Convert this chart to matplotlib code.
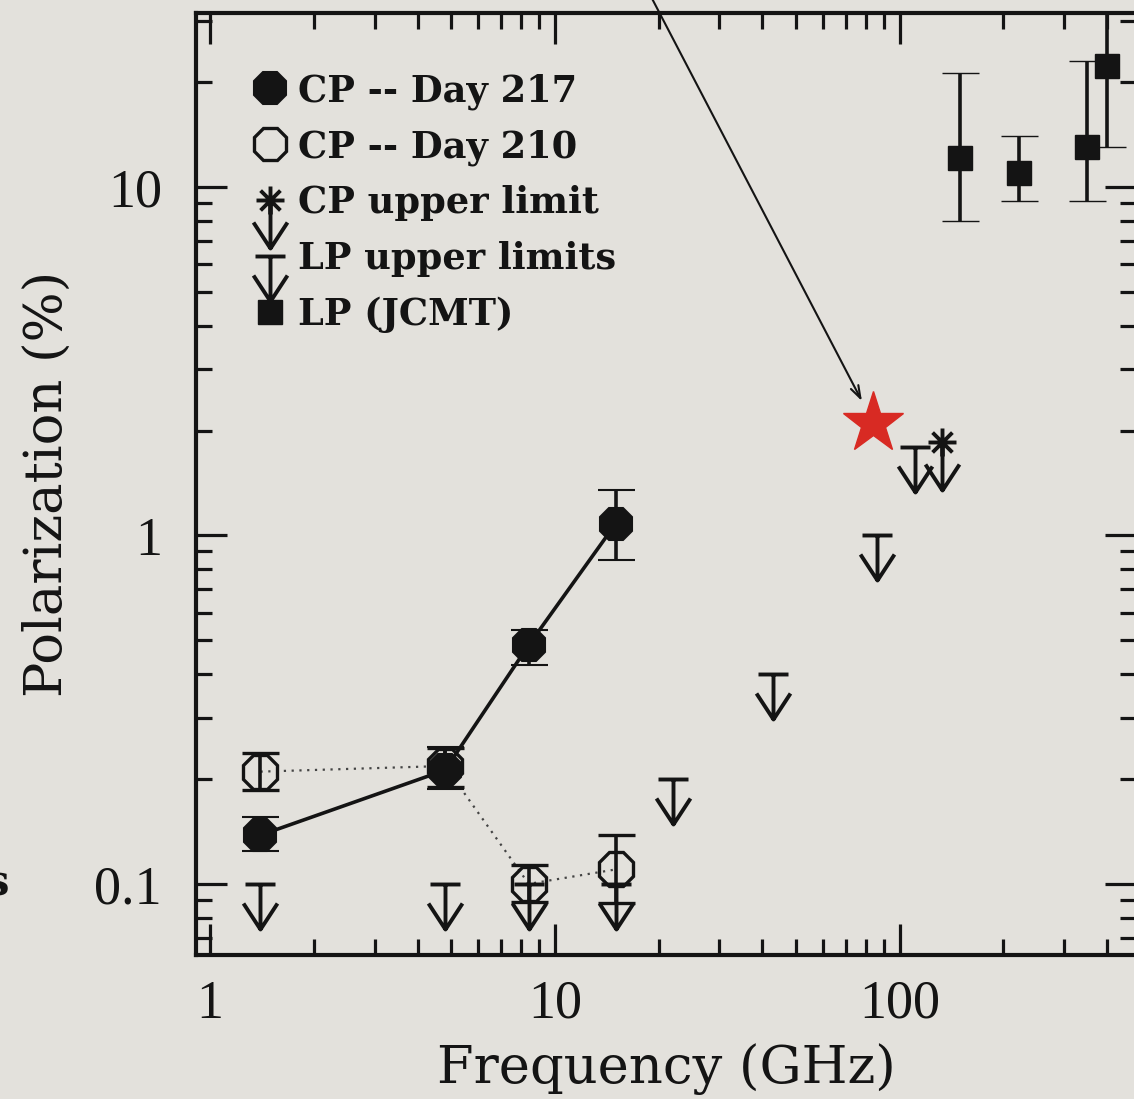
import numpy as np
import matplotlib
matplotlib.use('Agg')
import matplotlib.pyplot as plt
from matplotlib.path import Path
from matplotlib.markers import MarkerStyle
from matplotlib.lines import Line2D
from matplotlib.ticker import FixedLocator, FixedFormatter, NullFormatter, LogLocator

DPI = 100
PAPER = '#e3e1dc'
INK = '#141414'

# circular polarization, day 217 (filled octagons, solid line)
cp217_freq = [1.4, 4.8, 8.4, 15.0]
cp217_pol = [0.138, 0.212, 0.485, 1.08]
cp217_lo = [0.124, 0.187, 0.425, 0.85]
cp217_hi = [0.156, 0.247, 0.535, 1.35]

# circular polarization, day 210 (open octagons, dotted line)
cp210_freq = [1.4, 4.8, 8.4, 15.0]
cp210_pol = [0.21, 0.218, 0.10, 0.11]
cp210_lo = [0.186, 0.19, 0.089, 0.088]
cp210_hi = [0.238, 0.245, 0.113, 0.138]

# CP upper limit
cplim_freq = [133.0]
cplim_pol = [1.85]

# LP upper limits
lplim_freq = [1.4, 4.8, 8.4, 15.0, 22.0, 43.0, 86.0, 111.0]
lplim_pol = [0.1, 0.1, 0.1, 0.1, 0.2, 0.4, 1.0, 1.8]

# LP measured at JCMT
jcmt_freq = [150.0, 222.0, 350.0, 400.0]
jcmt_pol = [12.1, 11.0, 13.0, 22.2]
jcmt_lo = [8.0, 9.1, 9.1, 13.0]
jcmt_hi = [21.2, 14.0, 23.0, 45.0]

# new point
star_freq = [84.0]
star_pol = [2.1]

x_ticks = [1, 10, 100]
x_ticklabels = ['1', '10', '100']
y_ticks = [0.1, 1, 10]
y_ticklabels = ['0.1', '1', '10']


def px2pt(v):
    return v * 72.0 / DPI


def limit_marker(top):
    # downward arrow; path origin sits on the limit value, units are pixels
    verts, codes = [], []

    def stroke(*pts):
        verts.extend(pts)
        codes.extend([Path.MOVETO] + [Path.LINETO] * (len(pts) - 1))

    if top == 'bar':
        length = 45
        stroke((-15, 0), (15, 0))
    else:
        length = 48
        for ang in (0, 45, 90, 135):
            a = np.radians(ang)
            dx, dy = 14 * np.cos(a), 14 * np.sin(a)
            stroke((-dx, -dy), (dx, dy))
    stroke((0, 0), (0, -length))
    stroke((-17, -length + 26), (0, -length), (17, -length + 26))
    m = MarkerStyle(Path(verts, codes), joinstyle='miter')
    return m, px2pt(2 * length)


lp_marker, lp_size = limit_marker('bar')
cp_marker, cp_size = limit_marker('star')

W, H = 1134, 1099
fig = plt.figure(figsize=(W / DPI, H / DPI), dpi=DPI, facecolor=PAPER)
ax = fig.add_axes([196 / W, (H - 955) / H, (1136 - 196) / W, (955 - 13) / H])
ax.set_facecolor(PAPER)
ax.set_xscale('log')
ax.set_yscale('log')

err_kw = dict(ecolor=INK, elinewidth=2.6, capsize=px2pt(18.5), capthick=2.6)

# day 210: dotted connecting line, open markers
ax.plot(cp210_freq, cp210_pol, ls=(0, (1, 2.5)), lw=1.6, color='#444444', zorder=2)
ax.errorbar(cp210_freq, cp210_pol,
            yerr=[np.subtract(cp210_pol, cp210_lo), np.subtract(cp210_hi, cp210_pol)],
            fmt='8', ms=26, mfc='none', mec=INK, mew=2.4, zorder=3, **err_kw)

# day 217: solid connecting line, filled markers
ax.plot(cp217_freq, cp217_pol, ls='-', lw=2.6, color=INK, zorder=3)
ax.errorbar(cp217_freq, cp217_pol,
            yerr=[np.subtract(cp217_pol, cp217_lo), np.subtract(cp217_hi, cp217_pol)],
            fmt='8', ms=25, mfc=INK, mec=INK, mew=1.5, zorder=4, **err_kw)

# upper limits
ax.plot(lplim_freq, lplim_pol, ls='none', marker=lp_marker, ms=lp_size,
        mfc='none', mec=INK, mew=2.8, zorder=4)
ax.plot(cplim_freq, cplim_pol, ls='none', marker=cp_marker, ms=cp_size,
        mfc='none', mec=INK, mew=2.8, zorder=4)

# JCMT linear polarization
ax.errorbar(jcmt_freq, jcmt_pol,
            yerr=[np.subtract(jcmt_pol, jcmt_lo), np.subtract(jcmt_hi, jcmt_pol)],
            fmt='s', ms=17, mfc=INK, mec=INK, mew=1, zorder=4, **err_kw)

# red star and the pointer to it
ax.plot(star_freq, star_pol, ls='none', marker='*', ms=46, color='#d82a23',
        mec='#d82a23', zorder=5)
ax.annotate('', xy=(star_freq[0], star_pol[0]), xycoords='data',
            xytext=(634, 1135), textcoords='figure pixels',
            arrowprops=dict(arrowstyle='->,head_length=0.9,head_width=0.3',
                            lw=1.5, color=INK, shrinkA=0, shrinkB=18),
            annotation_clip=False, zorder=6)

ax.set_xlim(0.91, 485)
ax.set_ylim(0.0625, 31.6)

tick_font = dict(family='Liberation Serif', size=39)
ax.xaxis.set_major_locator(FixedLocator(x_ticks))
ax.xaxis.set_major_formatter(FixedFormatter(x_ticklabels))
ax.yaxis.set_major_locator(FixedLocator(y_ticks))
ax.yaxis.set_major_formatter(FixedFormatter(y_ticklabels))
for axis in (ax.xaxis, ax.yaxis):
    axis.set_minor_locator(LogLocator(base=10, subs=np.arange(2, 10), numticks=20))
    axis.set_minor_formatter(NullFormatter())
ax.tick_params(which='both', direction='in', top=True, right=True,
               color=INK, width=2.3)
ax.tick_params(which='major', length=px2pt(31))
ax.tick_params(which='minor', length=px2pt(16))
ax.tick_params(axis='x', pad=px2pt(24))
ax.tick_params(axis='y', pad=px2pt(34))
for lab in ax.get_xticklabels() + ax.get_yticklabels():
    lab.set_fontfamily(tick_font['family'])
    lab.set_fontsize(tick_font['size'])
    lab.set_color(INK)
for sp in ax.spines.values():
    sp.set_linewidth(3.0)
    sp.set_color(INK)

label_font = dict(family='DejaVu Serif', size=38, color=INK)
ax.set_xlabel('Frequency (GHz)', labelpad=px2pt(14), **label_font)
ax.set_ylabel('Polarization (%)', labelpad=px2pt(22), **label_font)

handles = [
    Line2D([], [], ls='none', marker='8', ms=25, mfc=INK, mec=INK, mew=1.5),
    Line2D([], [], ls='none', marker='8', ms=25, mfc='none', mec=INK, mew=2.4),
    Line2D([], [], ls='none', marker=cp_marker, ms=cp_size, mfc='none', mec=INK, mew=2.8),
    Line2D([], [], ls='none', marker=lp_marker, ms=lp_size, mfc='none', mec=INK, mew=2.8),
    Line2D([], [], ls='none', marker='s', ms=17, mfc=INK, mec=INK),
]
labels = ['CP -- Day 217', 'CP -- Day 210', 'CP upper limit',
          'LP upper limits', 'LP (JCMT)']
leg = ax.legend(handles, labels, loc='upper left',
                bbox_to_anchor=(252 / W, (H - 73) / H),
                bbox_transform=fig.transFigure, frameon=False,
                borderpad=0, borderaxespad=0, handlelength=1.0,
                handletextpad=0.25, labelspacing=0.53,
                prop=dict(family='DejaVu Serif', weight='bold', size=26.5))
for t in leg.get_texts():
    t.set_color(INK)

# clipped fragment of neighbouring text at the left edge
fig.text(9 / W, (H - 884) / H, 's', ha='right', va='center',
         family='DejaVu Serif', weight='bold', size=30, color=INK)

fig.savefig('out.png', dpi=DPI, facecolor=PAPER)
